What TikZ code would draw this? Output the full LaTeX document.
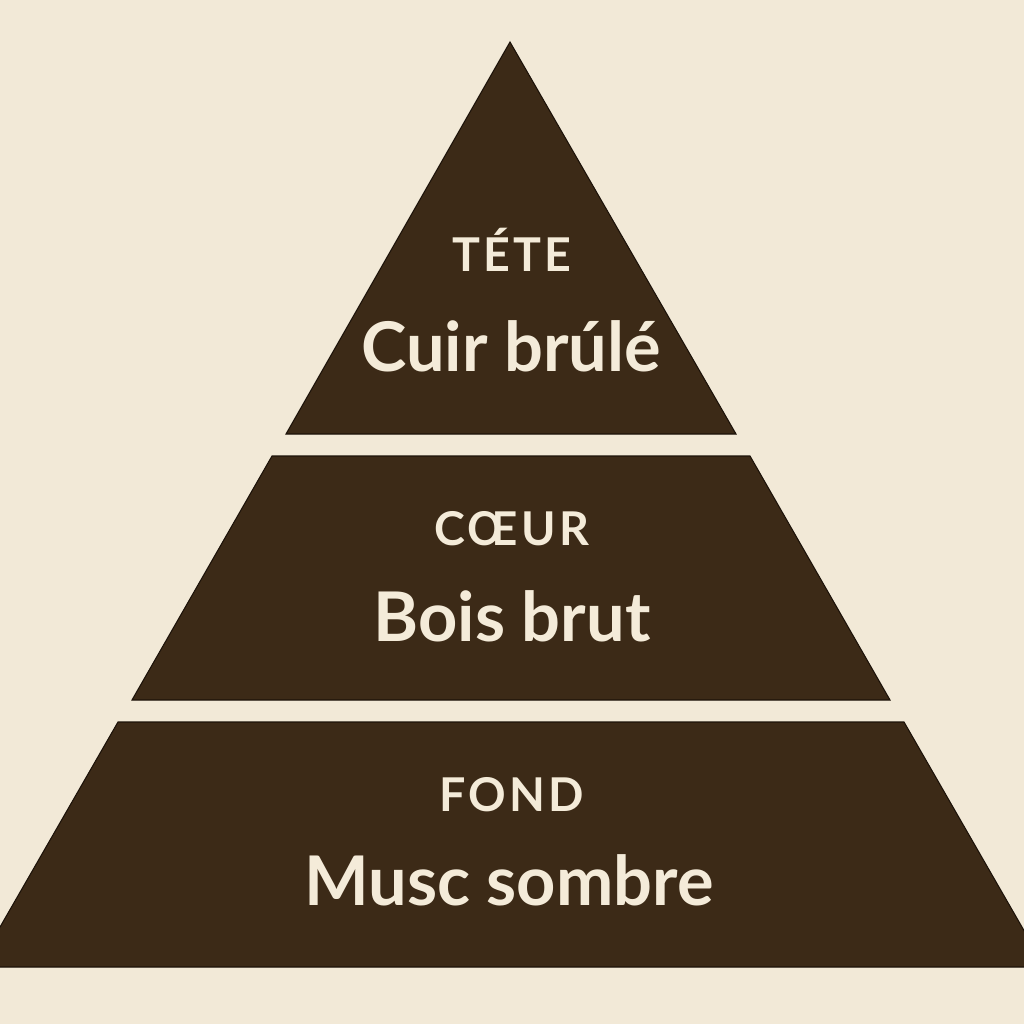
\documentclass[tikz,border=0pt]{standalone}
\usepackage{fontspec}
\setmainfont{Lato}
\newfontfamily\spacedlato{Lato}[LetterSpace=7]
\usetikzlibrary{calc}
\definecolor{paperCream}{HTML}{F2E9D7}
\definecolor{barkBrown}{HTML}{3C2A17}
\definecolor{edgeBrown}{HTML}{1C1209}
\definecolor{inkCream}{HTML}{F4EBD9}
\tikzset{
  tier/.style={fill=barkBrown, draw=edgeBrown, line width=0.6pt, line join=miter},
  tierlabel/.style={anchor=base, text=inkCream, font=\spacedlato\bfseries\fontsize{26.5}{30}\selectfont, inner sep=0pt},
  tiernote/.style={anchor=base, text=inkCream, font=\bfseries\fontsize{39}{44}\selectfont, inner sep=0pt}
}

\begin{document}
\begin{tikzpicture}[x=0.02cm, y=-0.02cm]
    \fill[paperCream] (0,0) rectangle (1024,1024);
    \useasboundingbox (0,0) rectangle (1024,1024);
    \clip (0,0) rectangle (1024,1024);

    \coordinate (apex) at (510,42);

    % top tier
    \filldraw[tier] (apex) -- (736,434) -- (286,434) -- cycle;
    % middle tier
    \filldraw[tier] (272,456) -- (750,456) -- (890,700) -- (132,700) -- cycle;
    % bottom tier
    \filldraw[tier] (118,722) -- (904,722) -- (1045,967) -- (-23,967) -- cycle;

    \node[tierlabel] (teteLabel)  at (512,271) {TÉTE};
    \node[tiernote]  (teteNote)   at (511,371) {Cuir brúlé};
    \node[tierlabel] (coeurLabel) at (512,545) {CŒUR};
    \node[tiernote]  (coeurNote)  at (512,641) {Bois brut};
    \node[tierlabel] (fondLabel)  at (512,811) {FOND};
    \node[tiernote]  (fondNote)   at (509,905) {Musc sombre};
\end{tikzpicture}
\end{document}
